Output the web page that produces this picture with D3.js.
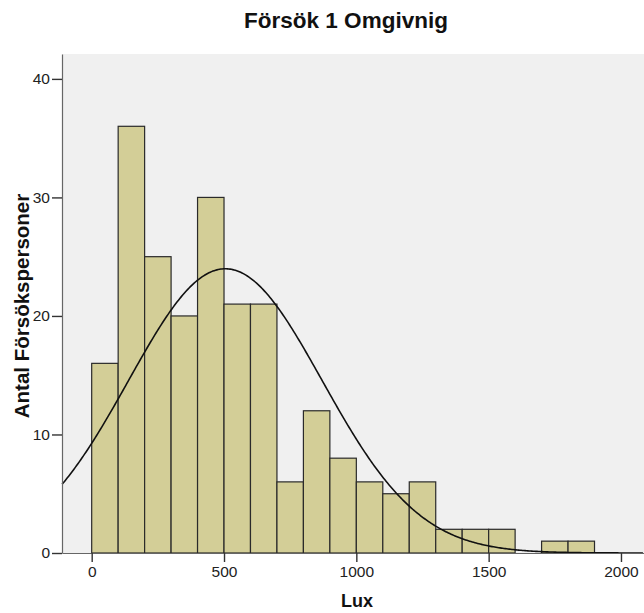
<!DOCTYPE html>
<html><head><meta charset="utf-8">
<script src="https://cdn.jsdelivr.net/npm/d3@7"></script>
<style>body{margin:0;background:#fff;} svg{display:block;font-family:"Liberation Sans",Arial,sans-serif;}</style>
</head><body>
<script>
const binStarts = [0,100,200,300,400,500,600,700,800,900,1000,1100,1200,1300,1400,1500,1600,1700,1800];
const counts = [16,36,25,20,30,21,21,6,12,8,6,5,6,2,2,2,0,1,1];
const binWidth = 100;
const xTicks = [0,500,1000,1500,2000];
const yTicks = [0,10,20,30,40];
const curveMean = 505, curveSD = 366, curveN = 220;

(function(){
const W = 644, H = 613;
const svg = d3.select("body").append("svg").attr("width", W).attr("height", H);
const pl = 62, pr = 644, pt = 54, pb = 553;
const x = d3.scaleLinear().domain([-112.2, 2087]).range([pl, pr]);
const y = d3.scaleLinear().domain([0, 42.1]).range([pb, pt]);

svg.append("rect").attr("x", pl).attr("y", pt).attr("width", pr-pl).attr("height", pb-pt).attr("fill", "#f0f0f0");

svg.append("g").selectAll("rect").data(binStarts.map((s,i)=>({s, c: counts[i]})).filter(d=>d.c>0))
  .join("rect")
  .attr("x", d=>x(d.s)).attr("width", d=>x(d.s+binWidth)-x(d.s))
  .attr("y", d=>y(d.c)).attr("height", d=>y(0)-y(d.c))
  .attr("fill", "#d3ce97").attr("stroke", "#2a2a2a").attr("stroke-width", 1.2);

const pts = d3.range(-112, 2087, 5).map(v => [v, curveN*binWidth/(curveSD*Math.sqrt(2*Math.PI))*Math.exp(-((v-curveMean)**2)/(2*curveSD*curveSD))]);
svg.append("path").datum(pts).attr("fill","none").attr("stroke","#111").attr("stroke-width",1.6)
  .attr("d", d3.line().x(d=>x(d[0])).y(d=>y(d[1])));

const xa = svg.append("g").attr("transform", `translate(0,${pb})`)
  .call(d3.axisBottom(x).tickValues(xTicks).tickFormat(d3.format("d")).tickSize(9).tickPadding(4).tickSizeOuter(0));
const ya = svg.append("g").attr("transform", `translate(${pl},0)`)
  .call(d3.axisLeft(y).tickValues(yTicks).tickFormat(d3.format("d")).tickSize(10).tickPadding(2).tickSizeOuter(0));
[xa, ya].forEach(a => {
  a.select(".domain").attr("stroke", "#666").attr("stroke-width", 1.2);
  a.selectAll(".tick line").attr("stroke", "#333").attr("stroke-width", 1.4);
  a.selectAll(".tick text").attr("font-size", 15.5).attr("fill", "#222").attr("font-family", "\"Liberation Sans\",Arial,sans-serif");
});

svg.append("text").attr("x", 346).attr("y", 28).attr("text-anchor","middle")
  .attr("font-size", 22.5).attr("font-weight","bold").attr("fill","#111").text("Försök 1 Omgivnig");
svg.append("text").attr("x", 357).attr("y", 607).attr("text-anchor","middle")
  .attr("font-size", 18).attr("font-weight","bold").attr("fill","#111").text("Lux");
svg.append("text").attr("transform", "translate(29,306) rotate(-90)").attr("text-anchor","middle")
  .attr("font-size", 20.5).attr("font-weight","bold").attr("fill","#111").text("Antal Försökspersoner");
})();
</script>
</body></html>
